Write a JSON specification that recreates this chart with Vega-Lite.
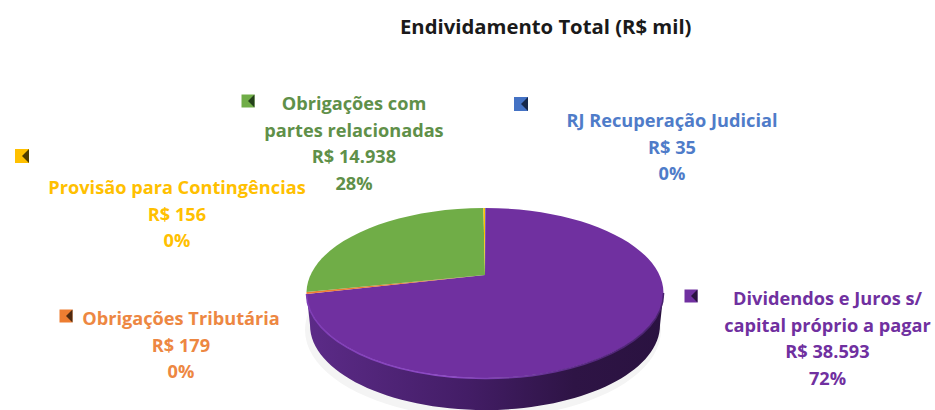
{
"$schema":"https://vega.github.io/schema/vega-lite/v6.json",
"width":935,"height":410,"padding":0,"autosize":{"type":"none"},"background":"white",
"title":{"text":"Endividamento Total (R$ mil)","font":"Open Sans","fontWeight":"bold","fontSize":20.3,"color":"#1a1a1a","anchor":"start","dx":400,"dy":38,"offset":0,"frame":"group"},
"config":{"view":{"stroke":null}},
"data":{"values":[
{"slice":"Dividendos","value":38593,"share":72,"label":"Dividendos e Juros s/\ncapital próprio a pagar\nR$ 38.593\n72%"},
{"slice":"Tributaria","value":179,"share":0,"label":"Obrigações Tributária\nR$ 179\n0%"},
{"slice":"Partes","value":14938,"share":28,"label":"Obrigações com\npartes relacionadas\nR$ 14.938\n28%"},
{"slice":"Provisao","value":156,"share":0,"label":"Provisão para Contingências\nR$ 156\n0%"},
{"slice":"RJ","value":35,"share":0,"label":"RJ Recuperação Judicial\nR$ 35\n0%"}
]},
"encoding":{
"x":{"datum":485,"type":"quantitative","axis":null,"scale":{"domain":[0,935],"range":[0,935],"nice":false,"zero":false}},
"y":{"datum":293,"type":"quantitative","axis":null,"scale":{"domain":[0,410],"range":[0,410],"nice":false,"zero":false}}
},
"layer":[
{"transform":[{"filter":"datum.slice==='Dividendos'"}],"mark":{"type":"point","filled":true,"size":4,"fill":"#f4f4f4","opacity":1,"shape":"M-180,37A178,88 0 1 1 176,37A178,88 0 1 1 -180,37Z"}},
{"transform":[{"filter":"datum.slice==='Dividendos'"}],"mark":{"type":"point","filled":true,"size":4,"opacity":1,"shape":"M-178.5,0A178.5,85 0 0 0 178.5,0L175,32A175,85 0 0 1 -175,32Z","fill":{"gradient":"linear","x1":0,"y1":0,"x2":1,"y2":0,"stops":[{"offset":0,"color":"#5c2b88"},{"offset":0.45,"color":"#431d66"},{"offset":0.75,"color":"#2e1445"},{"offset":1,"color":"#2a1240"}]}}},
{"mark":{"type":"point","filled":true,"size":4,"opacity":1},
 "encoding":{
 "shape":{"field":"slice","type":"nominal","legend":null,"scale":{"domain":["Dividendos","Tributaria","Partes","Provisao","RJ"],"range":["M0,-18L0.3,-85A178.5,85 0 1 1 -178.5,1Z","M0,-18L-178.5,1L-178.5,-1Z","M0,-18L-1.6,-85A178.5,85 0 0 0 -178.5,-1Z","M0,-18L-1.6,-85L0,-85Z","M0,-18L0,-85L0.3,-85Z"]}},
 "fill":{"field":"slice","type":"nominal","legend":null,"scale":{"domain":["Dividendos","Tributaria","Partes","Provisao","RJ"],"range":["#7030a0","#ed7d31","#70ad47","#ffc000","#4472c4"]}}
 }},
{"transform":[{"filter":"datum.slice==='Dividendos'"}],"mark":{"type":"point","filled":false,"size":4,"opacity":1,"strokeWidth":1.6,"shape":"M-178.5,1A178.5,85 0 0 0 178.5,0","stroke":{"gradient":"linear","x1":0,"y1":0,"x2":1,"y2":0,"stops":[{"offset":0,"color":"#7f3db5"},{"offset":0.4,"color":"#8f4cc8"},{"offset":0.8,"color":"#562780"},{"offset":1,"color":"#4a2270"}]}}},

{"transform":[{"filter":"datum.slice==='Dividendos'"}],"layer":[
 {"mark":{"type":"text","font":"Open Sans","fontWeight":"bold","fontSize":18.2,"lineBreak":"\n","lineHeight":26.6,"align":"center","baseline":"alphabetic","fill":"#7030a0"},"encoding":{"x":{"datum":827.5},"y":{"datum":305},"text":{"field":"label"}}},
 {"mark":{"type":"point","filled":true,"size":4,"opacity":1,"fill":"#7030a0","shape":"M-6.5,-6.5H6.5V6.5H-6.5Z"},"encoding":{"x":{"datum":691},"y":{"datum":296}}},
 {"mark":{"type":"point","filled":true,"size":4,"opacity":1,"fill":"#2a1240","shape":"M6.5,-6.5L0,0L6.5,6.5Z"},"encoding":{"x":{"datum":691},"y":{"datum":296}}}
]},
{"transform":[{"filter":"datum.slice==='Tributaria'"}],"layer":[
 {"mark":{"type":"text","font":"Open Sans","fontWeight":"bold","fontSize":18.2,"lineBreak":"\n","lineHeight":26.6,"align":"center","baseline":"alphabetic","fill":"#ed8742"},"encoding":{"x":{"datum":181},"y":{"datum":325},"text":{"field":"label"}}},
 {"mark":{"type":"point","filled":true,"size":4,"opacity":1,"fill":"#ed7d31","shape":"M-6.5,-6.5H6.5V6.5H-6.5Z"},"encoding":{"x":{"datum":66},"y":{"datum":316}}},
 {"mark":{"type":"point","filled":true,"size":4,"opacity":1,"fill":"#4f2a10","shape":"M6.5,-6.5L0,0L6.5,6.5Z"},"encoding":{"x":{"datum":66},"y":{"datum":316}}}
]},
{"transform":[{"filter":"datum.slice==='Partes'"}],"layer":[
 {"mark":{"type":"text","font":"Open Sans","fontWeight":"bold","fontSize":18.2,"lineBreak":"\n","lineHeight":26.6,"align":"center","baseline":"alphabetic","fill":"#5f9049"},"encoding":{"x":{"datum":354},"y":{"datum":110},"text":{"field":"label"}}},
 {"mark":{"type":"point","filled":true,"size":4,"opacity":1,"fill":"#70ad47","shape":"M-6.5,-6.5H6.5V6.5H-6.5Z"},"encoding":{"x":{"datum":248},"y":{"datum":101}}},
 {"mark":{"type":"point","filled":true,"size":4,"opacity":1,"fill":"#24401a","shape":"M6.5,-6.5L0,0L6.5,6.5Z"},"encoding":{"x":{"datum":248},"y":{"datum":101}}}
]},
{"transform":[{"filter":"datum.slice==='Provisao'"}],"layer":[
 {"mark":{"type":"text","font":"Open Sans","fontWeight":"bold","fontSize":18.2,"lineBreak":"\n","lineHeight":26.6,"align":"center","baseline":"alphabetic","fill":"#ffc000"},"encoding":{"x":{"datum":177},"y":{"datum":194},"text":{"field":"label"}}},
 {"mark":{"type":"point","filled":true,"size":4,"opacity":1,"fill":"#ffc000","shape":"M-7,-7H7V7H-7Z"},"encoding":{"x":{"datum":22},"y":{"datum":156}}},
 {"mark":{"type":"point","filled":true,"size":4,"opacity":1,"fill":"#4f3c00","shape":"M7,-7L0,0L7,7Z"},"encoding":{"x":{"datum":22},"y":{"datum":156}}}
]},
{"transform":[{"filter":"datum.slice==='RJ'"}],"layer":[
 {"mark":{"type":"text","font":"Open Sans","fontWeight":"bold","fontSize":18.2,"lineBreak":"\n","lineHeight":26.6,"align":"center","baseline":"alphabetic","fill":"#4f7cc9"},"encoding":{"x":{"datum":672},"y":{"datum":127},"text":{"field":"label"}}},
 {"mark":{"type":"point","filled":true,"size":4,"opacity":1,"fill":"#4472c4","shape":"M-7,-7H7V7H-7Z"},"encoding":{"x":{"datum":521},"y":{"datum":104}}},
 {"mark":{"type":"point","filled":true,"size":4,"opacity":1,"fill":"#16284a","shape":"M7,-7L0,0L7,7Z"},"encoding":{"x":{"datum":521},"y":{"datum":104}}}
]}
]
}
